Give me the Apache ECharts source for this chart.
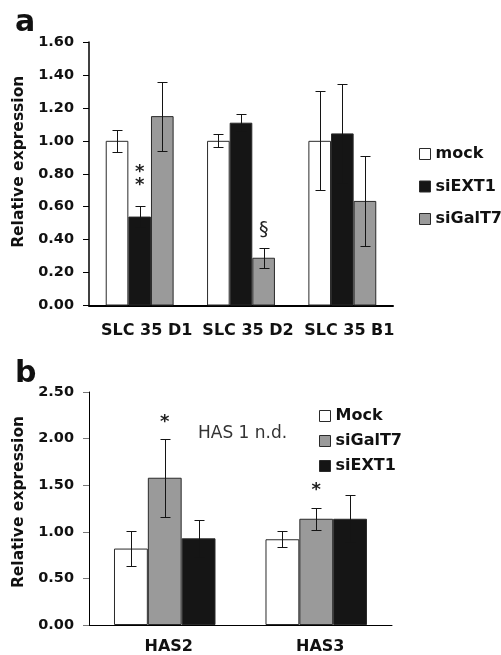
<!DOCTYPE html>
<html>
<head>
<meta charset="utf-8">
<script src="https://cdn.jsdelivr.net/npm/echarts@6/dist/echarts.min.js"></script>
<style>
  html, body { margin: 0; background: #fff; }
  #chart { width: 501px; height: 655px; }
</style>
</head>
<body>
<div id="chart"></div>
<script>
// panel a data
var catsA = ['SLC 35 D1', 'SLC 35 D2', 'SLC 35 B1'];
var mockA = [1.00, 1.00, 1.00];
var mockErrA = [0.065, 0.04, 0.30];
var ext1A = [0.54, 1.11, 1.045];
var ext1ErrA = [0.065, 0.05, 0.30];
var galt7A = [1.15, 0.29, 0.635];
var galt7ErrA = [0.21, 0.06, 0.275];
// significance marks a: text, category, bar slot, height
var markTextA = ['*\n*', '§'];
var markCatA = [0, 1];
var markBarA = [1, 2];
var markYA = [0.77, 0.46];

// panel b data
var catsB = ['HAS2', 'HAS3'];
var mockB = [0.82, 0.92];
var mockErrB = [0.19, 0.085];
var galt7B = [1.58, 1.14];
var galt7ErrB = [0.42, 0.12];
var ext1B = [0.93, 1.14];
var ext1ErrB = [0.20, 0.25];
var markTextB = ['*', '*'];
var markCatB = [0, 1];
var markBarB = [1, 1];
var markYB = [2.17, 1.44];

var FONT = 'DejaVu Sans';
var GAP = 0.33; // barCategoryGap
var WHITE = '#ffffff', BLACK = '#151515', GRAY = '#9a9a9a';

var myChart = echarts.init(document.getElementById('chart'));

// x offset of bar slot (0,1,2) from the category center
function slotOffset(api, slot) {
  var band = api.size([1, 0])[0];
  var w = band * (1 - GAP) / 3;
  return (slot - 1) * w;
}

function barSeries(name, data, color, idx) {
  return {
    type: 'bar', name: name, data: data,
    xAxisIndex: idx, yAxisIndex: idx,
    barGap: '0%', barCategoryGap: '33%',
    itemStyle: { color: color, borderColor: '#2a2a2a', borderWidth: 1 },
    emphasis: { disabled: true },
    silent: true
  };
}

function errSeries(vals, errs, slot, idx) {
  return {
    type: 'custom', xAxisIndex: idx, yAxisIndex: idx, z: 10, silent: true,
    data: vals.map(function (v, i) { return [i, v, errs[i]]; }),
    renderItem: function (params, api) {
      var i = api.value(0), v = api.value(1), e = api.value(2);
      var x = Math.round(api.coord([i, v])[0] + slotOffset(api, slot)) + 0.5;
      var y1 = Math.round(api.coord([i, v + e])[1]) + 0.5;
      var y2 = Math.round(api.coord([i, v - e])[1]) + 0.5;
      var st = { stroke: '#141414', lineWidth: 1 };
      return {
        type: 'group',
        children: [
          { type: 'line', shape: { x1: x, y1: y1, x2: x, y2: y2 }, style: st },
          { type: 'line', shape: { x1: x - 5, y1: y1, x2: x + 5, y2: y1 }, style: st },
          { type: 'line', shape: { x1: x - 5, y1: y2, x2: x + 5, y2: y2 }, style: st }
        ]
      };
    }
  };
}

function markSeries(texts, cats, slots, ys, idx, font) {
  return {
    type: 'custom', xAxisIndex: idx, yAxisIndex: idx, z: 11, silent: true,
    data: cats.map(function (c, k) { return [c, ys[k], slots[k], k]; }),
    renderItem: function (params, api) {
      var p = api.coord([api.value(0), api.value(1)]);
      var t = texts[api.value(3)];
      return {
        type: 'text',
        x: p[0] + slotOffset(api, api.value(2)),
        y: p[1],
        style: {
          text: t, font: t === '§' ? '19px "DejaVu Sans"' : font, fill: '#222',
          align: 'center', verticalAlign: 'middle', lineHeight: 13
        }
      };
    }
  };
}

var axisLabelY = { margin: 15, fontSize: 14.5, fontWeight: 'bold', fontFamily: FONT, color: '#111',
  formatter: function (v) { return v.toFixed(2); } };
var nameStyle = { fontSize: 15.5, fontWeight: 'bold', fontFamily: FONT, color: '#111' };
var legendText = { fontSize: 16, fontWeight: 'bold', fontFamily: FONT, color: '#111', lineHeight: 18 };

var option = {
  animation: false,
  backgroundColor: '#fff',
  title: [
    { text: 'a', left: 10, top: 3, textStyle: { fontSize: 30, fontWeight: 'bold', fontFamily: FONT, color: '#111' } },
    { text: 'b', left: 10, top: 354, textStyle: { fontSize: 30, fontWeight: 'bold', fontFamily: FONT, color: '#111' } }
  ],
  grid: [
    { left: 89, top: 42, width: 304, height: 263.5, outerBoundsMode: 'none' },
    { left: 89, top: 392, width: 303, height: 233, outerBoundsMode: 'none' }
  ],
  legend: [
    {
      data: ['mock', 'siEXT1', 'siGalT7'], orient: 'vertical', left: 419, top: 145,
      itemWidth: 11, itemHeight: 11, itemGap: 14.5, padding: 0, icon: 'rect',
      selectedMode: false, textStyle: legendText,
      itemStyle: { borderColor: '#2a2a2a', borderWidth: 1 }
    },
    {
      data: ['Mock', 'siGalT7', 'siEXT1'], orient: 'vertical', left: 319, top: 407,
      itemWidth: 11, itemHeight: 11, itemGap: 7, padding: 0, icon: 'rect',
      selectedMode: false, textStyle: legendText,
      itemStyle: { borderColor: '#2a2a2a', borderWidth: 1 }
    }
  ],
  xAxis: [
    {
      gridIndex: 0, type: 'category', data: catsA,
      axisLine: { lineStyle: { color: '#000', width: 2 } },
      axisTick: { length: 5, lineStyle: { color: '#000', width: 1 } },
      axisLabel: { interval: 0, hideOverlap: false, margin: 17, fontSize: 16, fontWeight: 'bold', fontFamily: FONT,
        color: '#111', padding: [0, 0, 0, 14] }
    },
    {
      gridIndex: 1, type: 'category', data: catsB,
      axisLine: { lineStyle: { color: '#000', width: 1 } },
      axisTick: { length: 4, lineStyle: { color: '#bbb', width: 1 } },
      axisLabel: { interval: 0, margin: 14, fontSize: 16, fontWeight: 'bold', fontFamily: FONT,
        color: '#111', padding: [0, 0, 0, 8] }
    }
  ],
  yAxis: [
    {
      gridIndex: 0, type: 'value', min: 0, max: 1.6, interval: 0.2,
      axisLine: { show: true, lineStyle: { color: '#000', width: 1.5 } },
      axisTick: { show: true, length: 6, lineStyle: { color: '#000' } },
      splitLine: { show: false },
      axisLabel: axisLabelY,
      name: 'Relative expression', nameLocation: 'middle', nameGap: 61,
      nameTextStyle: Object.assign({ padding: [0, 0, 0, 24] }, nameStyle)
    },
    {
      gridIndex: 1, type: 'value', min: 0, max: 2.5, interval: 0.5,
      axisLine: { show: true, lineStyle: { color: '#000', width: 1 } },
      axisTick: { show: true, length: 6, lineStyle: { color: '#777' } },
      splitLine: { show: false },
      axisLabel: axisLabelY,
      name: 'Relative expression', nameLocation: 'middle', nameGap: 61,
      nameTextStyle: Object.assign({ padding: [0, 0, 0, 13] }, nameStyle)
    }
  ],
  graphic: [
    {
      type: 'text', left: 198, top: 425,
      style: { text: 'HAS 1 n.d.', font: '17px "DejaVu Sans"', fill: '#333' }
    }
  ],
  series: [
    barSeries('mock', mockA, WHITE, 0),
    barSeries('siEXT1', ext1A, BLACK, 0),
    barSeries('siGalT7', galt7A, GRAY, 0),
    errSeries(mockA, mockErrA, 0, 0),
    errSeries(ext1A, ext1ErrA, 1, 0),
    errSeries(galt7A, galt7ErrA, 2, 0),
    markSeries(markTextA, markCatA, markBarA, markYA, 0, 'bold 18px "DejaVu Sans"'),

    barSeries('Mock', mockB, WHITE, 1),
    barSeries('siGalT7', galt7B, GRAY, 1),
    barSeries('siEXT1', ext1B, BLACK, 1),
    errSeries(mockB, mockErrB, 0, 1),
    errSeries(galt7B, galt7ErrB, 1, 1),
    errSeries(ext1B, ext1ErrB, 2, 1),
    markSeries(markTextB, markCatB, markBarB, markYB, 1, 'bold 18px "DejaVu Sans"')
  ]
};

myChart.setOption(option);
</script>
</body>
</html>
